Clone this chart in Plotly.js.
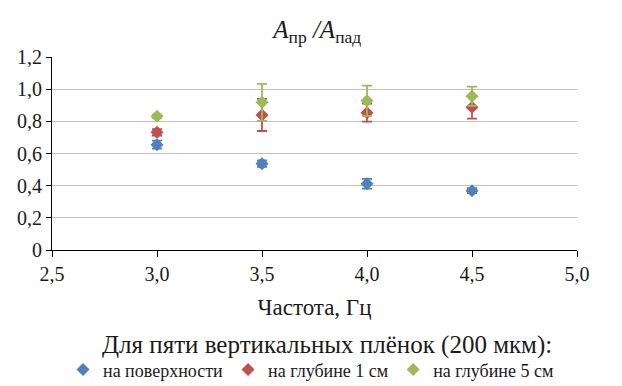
<!DOCTYPE html>
<html>
<head>
<meta charset="utf-8">
<script src="https://cdn.plot.ly/plotly-3.0.1.min.js"></script>
<style>html,body{margin:0;padding:0;background:#fff}#chart{width:622px;height:386px}</style>
</head>
<body>
<div id="chart"></div>
<script>
const freq = [3.0, 3.5, 4.0, 4.5];
const surface = [0.655, 0.537, 0.412, 0.369];
const surfaceErr = [0.025, 0.02, 0.03, 0.015];
const depth1 = [0.732, 0.840, 0.854, 0.887];
const depth1Err = [0.02, 0.10, 0.056, 0.07];
const depth5 = [0.831, 0.918, 0.928, 0.956];
const depth5Err = [0.01, 0.115, 0.094, 0.06];
const seriesNames = ['на поверхности', 'на глубине 1 см', 'на глубине 5 см'];
const xTickVals = [2.5, 3.0, 3.5, 4.0, 4.5, 5.0];
const xTickText = ['2,5', '3,0', '3,5', '4,0', '4,5', '5,0'];
const yTickVals = [0, 0.2, 0.4, 0.6, 0.8, 1.0, 1.2];
const yTickText = ['0', '0,2', '0,4', '0,6', '0,8', '1,0', '1,2'];
const legendTitle = 'Для пяти вертикальных плёнок (200 мкм):';
const xTitle = 'Частота, Гц';
const chartTitle = '<i>A</i><sub>пр</sub><i> /A</i><sub>пад</sub>';

const colors = ['#4F81BD', '#C0504D', '#9BBB59'];
const F = 'serif';
const TXT = '#1a1a1a';

function tr(y, e, i) {
  return {
    x: freq, y: y, name: seriesNames[i], type: 'scatter', mode: 'markers',
    marker: {symbol: 'diamond', size: 10, color: colors[i]},
    error_y: {type: 'data', array: e, visible: true, color: colors[i], thickness: 1.8, width: 5}
  };
}

const data = [tr(surface, surfaceErr, 0), tr(depth1, depth1Err, 1), tr(depth5, depth5Err, 2)];

const layout = {
  width: 622, height: 386,
  margin: {l: 52, r: 45, t: 57, b: 136, autoexpand: false},
  paper_bgcolor: '#fff', plot_bgcolor: '#fff',
  font: {family: F, color: TXT, size: 18},
  title: {text: chartTitle, font: {family: F, size: 25, color: TXT}, x: 0.51, xanchor: 'center', y: 0.925, yanchor: 'middle', yref: 'container'},
  xaxis: {
    range: [2.5, 5.0], tickvals: xTickVals, ticktext: xTickText,
    showgrid: false, zeroline: false, showline: true, linecolor: '#000', linewidth: 1,
    ticks: 'outside', ticklen: 6, tickcolor: '#000', automargin: false,
    tickfont: {family: F, size: 20, color: TXT},
    title: {text: xTitle, font: {family: F, size: 23, color: TXT}, standoff: 14}
  },
  yaxis: {
    range: [0, 1.2], tickvals: yTickVals, ticktext: yTickText,
    showgrid: true, gridcolor: '#BFBFBF', gridwidth: 1.3, zeroline: false,
    showline: true, linecolor: '#000', linewidth: 1, automargin: false,
    ticks: 'outside', ticklen: 5, tickcolor: '#000',
    tickfont: {family: F, size: 20, color: TXT}
  },
  showlegend: true,
  legend: {
    orientation: 'h', xref: 'container', x: 0.5, xanchor: 'center', y: -0.525, yanchor: 'top',
    font: {family: F, size: 18, color: TXT},
    itemwidth: 30, tracegroupgap: 0, bgcolor: 'rgba(0,0,0,0)'
  },
  annotations: [{
    text: legendTitle, xref: 'paper', yref: 'paper', x: 0.523, y: -0.49,
    xanchor: 'center', yanchor: 'middle', showarrow: false,
    font: {family: F, size: 25, color: TXT}
  }]
};

Plotly.newPlot('chart', data, layout, {displayModeBar: false, staticPlot: true});
</script>
</body>
</html>
